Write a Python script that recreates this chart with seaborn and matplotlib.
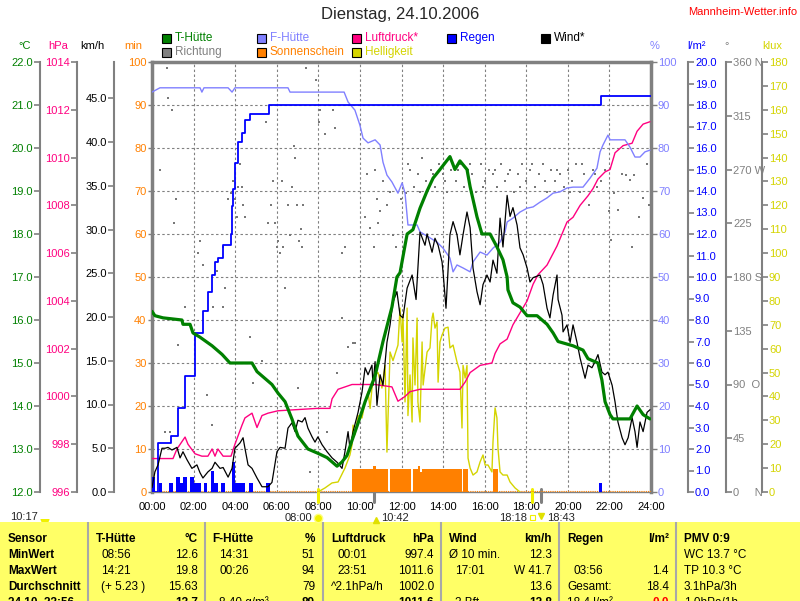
import numpy as np
import pandas as pd
import matplotlib.pyplot as plt
import seaborn as sns
from matplotlib.patches import Rectangle, Wedge

sns.set_style("white")
plt.rcParams['font.family'] = ['Liberation Sans', 'DejaVu Sans']

# ---------------- data (hours of the day) ----------------
temp_h = [0.0, 0.14, 0.53, 1.44, 1.49, 1.83, 1.97, 2.31, 2.89, 3.37, 3.75, 4.81, 5.05, 5.29, 5.77,
          6.06, 6.40, 6.73, 7.02, 7.50, 7.98, 8.42, 8.90, 9.14, 9.38, 9.62, 9.91, 10.25, 10.73,
          11.11, 11.54, 11.78, 11.93, 12.27, 12.55, 12.89, 13.23, 13.52, 13.85, 14.33, 14.57,
          14.81, 15.15, 15.30, 15.63, 15.87, 16.26, 16.59, 16.88, 17.08, 17.12, 17.36, 17.70,
          18.04, 18.52, 19.00, 19.29, 19.53, 20.25, 20.73, 20.97, 21.45, 21.64, 21.79, 22.03,
          22.17, 22.99, 23.33, 23.62, 23.95]
temp_c = [16.2, 16.1, 16.05, 16.0, 15.9, 15.9, 15.7, 15.6, 15.4, 15.2, 15.0, 15.0, 14.8, 14.7, 14.5,
          14.3, 14.1, 13.7, 13.3, 13.0, 12.9, 12.8, 12.6, 12.7, 12.85, 13.2, 13.6, 14.1, 14.7,
          15.5, 16.3, 17.0, 17.1, 18.0, 18.1, 18.6, 19.0, 19.3, 19.5, 19.8, 19.5,
          19.7, 19.5, 19.1, 18.4, 18.0, 18.0, 17.7, 17.4, 17.0, 16.7, 16.4, 16.3,
          16.1, 16.1, 15.9, 15.7, 15.5, 15.4, 15.3, 15.1, 15.0, 14.6, 14.1, 13.8,
          13.7, 13.7, 14.0, 13.8, 13.7]

hum_h = [0.0, 0.38, 2.31, 2.40, 2.50, 3.66, 3.85, 3.99, 6.54, 6.64, 9.24, 9.43, 9.76, 10.0, 10.15,
         10.39, 10.73, 10.97, 11.11, 11.30, 11.54, 11.83, 12.03, 12.17, 12.31, 12.75, 12.89, 13.37,
         13.71, 14.00, 14.33, 14.48, 14.67, 14.96, 15.30, 15.44, 15.78, 16.11, 16.40, 16.74, 16.98,
         17.08, 17.36, 17.70, 18.04, 18.33, 18.66, 19.0, 19.29, 19.62, 19.96, 20.25, 20.73, 21.07,
         21.40, 21.55, 21.69, 21.93, 22.03, 22.75, 22.99, 23.23, 23.47, 23.71, 23.95]
hum_pct = [93, 94, 94, 93, 94, 94, 93, 94, 94, 93, 93, 90.7, 88.8, 85.3, 82.3,
           81.2, 81.9, 80.7, 76.7, 73.7, 72.1, 69.5, 71.9, 69.5, 62.1, 62.1, 60.5, 59.1,
           58.1, 56.7, 54.4, 51.2, 52.8, 52.1, 51.2, 53.5, 55.8, 55.1, 56.7, 58.1, 60.5,
           62.8, 63.7, 65.1, 66.0, 66.3, 67.4, 68.4, 69.5, 69.8, 70.7, 70.9, 70.9, 73.0,
           75.3, 79.1, 80.7, 83.0, 81.9, 81.9, 80.2, 77.9, 77.9, 79.1, 79.5]

pres_h = [0.0, 1.01, 1.20, 1.59, 1.73, 2.07, 2.40, 2.69, 2.89, 3.03, 3.17, 3.42, 3.80, 3.99, 4.33,
          4.47, 4.81, 5.05, 5.29, 5.58, 6.06, 7.94, 8.56, 8.66, 8.95, 9.62, 10.73, 11.54, 11.83,
          12.17, 12.41, 12.89, 14.81, 15.06, 15.30, 15.78, 16.35, 16.50, 16.74, 17.08, 17.36,
          17.70, 18.04, 18.33, 18.57, 19.0, 19.48, 19.96, 20.25, 20.59, 20.97, 21.21, 21.45,
          21.79, 22.03, 22.27, 22.66, 23.09, 23.33, 23.62, 23.95]
pres_hpa = [997.4, 997.4, 997.8, 998.3, 998.0, 997.6, 997.5, 997.5, 997.8, 997.5, 997.8, 997.5,
            997.5, 998.0, 998.8, 999.1, 999.3, 998.7, 999.2, 999.3, 999.4, 999.5, 999.5, 999.9,
            1000.3, 1000.5, 1000.5, 1000.4, 999.8, 1000.0, 1000.2, 1000.3, 1000.3, 1000.6, 1001.0,
            1001.3, 1001.4, 1001.8, 1002.2, 1002.4, 1003.0, 1003.5, 1004.0, 1004.7, 1005.1,
            1005.5, 1006.3, 1007.3, 1007.5, 1008.0, 1008.4, 1008.7, 1009.1, 1009.4, 1009.5,
            1010.2, 1010.5, 1010.6, 1011.1, 1011.4, 1011.5]

wind_h = [0.0, 0.14, 0.29, 0.48, 0.63, 0.77, 0.96, 1.20, 1.35, 1.49, 1.68, 1.92, 2.16, 2.31, 2.45,
          2.69, 2.89, 3.03, 3.27, 3.42, 3.66, 3.85, 3.99, 4.23, 4.38, 4.47, 4.62, 4.81, 5.05, 5.29,
          5.58, 5.77, 6.01, 6.16, 6.40, 6.54, 6.73, 6.88, 7.02, 7.22, 7.36, 7.50, 7.70, 7.84, 7.98,
          8.18, 8.42, 8.66, 8.90, 9.14, 9.28, 9.43, 9.52, 9.67, 9.91, 10.10, 10.25, 10.39, 10.58,
          10.63, 10.73, 10.82, 10.97, 11.11, 11.30, 11.45, 11.59, 11.78, 11.93, 12.07, 12.27,
          12.51, 12.70, 12.89, 13.13, 13.23, 13.47, 13.61, 13.76, 13.95, 14.0, 14.14, 14.33,
          14.48, 14.67, 14.81, 14.96, 15.15, 15.30, 15.44, 15.63, 15.78, 15.92, 16.11, 16.26,
          16.40, 16.59, 16.74, 16.88, 17.08, 17.22, 17.36, 17.56, 17.70, 17.85, 18.04, 18.18,
          18.33, 18.66, 18.81, 19.0, 19.14, 19.29, 19.48, 19.53, 19.72, 19.77, 19.96, 20.11,
          20.25, 20.44, 20.59, 20.83, 20.97, 21.16, 21.31, 21.45, 21.64, 21.79, 21.93, 22.13,
          22.27, 22.41, 22.61, 22.75, 22.90, 23.09, 23.23, 23.33, 23.47, 23.62, 23.81, 23.95]
wind_kmh = [0.5, 2.3, 3.1, 5.0, 5.0, 5.1, 4.8, 5.1, 3.9, 4.6, 3.7, 2.7, 3.1, 2.2, 1.6,
            2.3, 2.7, 3.4, 2.7, 2.8, 1.7, 2.7, 5.0, 5.6, 6.2, 5.0, 3.1, 2.7, 1.6, 0.6,
            0.6, 1.1, 4.6, 5.1, 5.0, 7.3, 7.9, 6.9, 8.2, 8.0, 8.5, 7.3, 6.3, 5.7, 6.3,
            5.4, 4.6, 3.9, 3.4, 2.7, 4.6, 6.9, 5.0, 6.9, 9.1, 11.4, 14.2, 13.4, 14.5,
            12.2, 14.9, 9.9, 13.4, 12.2, 17.1, 19.1, 21.7, 22.9, 20.2, 19.9, 23.3,
            24.8, 22.0, 29.7, 28.2, 29.5, 27.4, 29.0, 28.2, 26.3, 25.1, 21.0, 29.4,
            30.9, 29.4, 27.1, 29.4, 32.0, 30.2, 25.6, 22.9, 21.4, 23.7, 24.8, 24.0,
            26.5, 25.0, 31.3, 28.0, 33.9, 31.5, 32.5, 30.5, 27.9, 27.1, 25.6, 24.0,
            24.5, 24.8, 23.7, 21.0, 19.9, 22.5, 24.8, 22.0, 20.2, 18.3, 19.1, 17.1,
            19.1, 17.1, 15.3, 13.0, 14.5, 14.2, 14.9, 15.7, 13.7, 13.4, 13.7, 12.2,
            10.3, 8.0, 6.2, 5.4, 6.2, 8.5, 6.9, 5.1, 8.0, 6.9, 9.1, 9.4]

rain_sum_h = [0.0, 0.30, 0.90, 1.25, 1.59, 2.07, 2.45, 2.69, 2.89, 3.03, 3.17, 3.41, 3.70, 3.80,
              3.85, 3.90, 3.99, 4.14, 4.33, 4.47, 4.71, 5.58, 5.63, 21.55, 21.60, 24.0]
rain_sum = [0.0, 2.3, 2.6, 3.9, 5.4, 7.4, 8.4, 9.3, 10.1, 10.7, 10.9, 11.5, 11.5, 12.0,
            13.3, 14.1, 15.3, 16.3, 16.7, 17.3, 17.6, 17.6, 18.0, 18.0, 18.4, 18.4]

rain_h = [0.0, 0.33, 0.83, 1.17, 1.33, 1.5, 1.83, 2.0, 2.17, 2.5, 2.83, 3.0, 3.33, 3.83, 4.0,
          4.17, 4.33, 4.67, 5.5, 21.5]
rain_mm = [0.7, 0.4, 0.4, 0.7, 0.4, 0.7, 0.7, 0.4, 0.4, 0.4, 1.0, 0.4, 0.4, 1.4, 0.4,
           0.4, 0.4, 0.4, 0.4, 0.4]

light_h = [7.98, 8.32, 8.66, 8.95, 9.28, 9.52, 9.62, 9.67, 9.76, 9.91, 10.10, 10.25, 10.39, 10.49,
           10.58, 10.73, 10.87, 11.06, 11.21, 11.30, 11.45, 11.59, 11.83, 11.93, 12.03, 12.07,
           12.17, 12.27, 12.31, 12.41, 12.51, 12.55, 12.65, 12.75, 12.79, 12.89, 12.99, 13.04,
           13.23, 13.37, 13.47, 13.52, 13.61, 13.71, 13.76, 13.85, 13.95, 14.09, 14.24, 14.33,
           14.48, 14.67, 14.81, 14.91, 14.96, 15.06, 15.15, 15.20, 15.30, 15.44, 15.63, 15.78,
           15.92, 16.02, 16.16, 16.35, 16.40, 16.50, 16.59, 16.64, 16.74, 16.88, 17.08, 17.22,
           17.46, 17.70]
light_klux = [0, 1.7, 3.8, 4.2, 10, 15.5, 19.7, 28, 24, 32, 31, 37.7, 41.9, 35,
              43.5, 49, 50, 43.5, 53, 16.7, 58.6, 55, 61.5, 77, 62.8, 74,
              37.7, 77, 32, 49, 29.3, 64.5, 44.8, 72.8, 37.7, 29.3, 62.8, 44.8,
              58.6, 60.3, 72.8, 74.9, 68.6, 71.2, 46, 62.8, 65.7, 68.6, 69, 60.3,
              61.5, 54.4, 50.2, 26.8, 53, 47.7, 53, 14.2, 10, 7.1, 8.4, 12.6,
              15.5, 11.3, 11.3, 8.4, 20.9, 35.2, 31, 18.4, 8.4, 7.1, 7.1, 4.2,
              1.7, 0]

sun_start = [9.62, 10.65, 10.75, 11.45, 12.55, 12.80, 12.90, 13.00, 14.97, 16.42]
sun_end = [10.65, 10.75, 11.35, 12.45, 12.80, 12.90, 13.00, 14.90, 15.20, 16.65]
sun_min = [5.3, 6.0, 5.3, 5.3, 5.3, 6.0, 4.6, 5.3, 5.3, 5.3]

dir_h = [0.38, 0.72, 0.77, 0.96, 1.06, 1.15, 2.21, 2.31, 2.45, 3.13, 3.42, 3.66, 3.80, 3.90, 3.99,
         4.09, 4.14, 4.23, 4.33, 4.38, 4.47, 5.48, 5.58, 5.72, 5.82, 5.92, 6.01, 6.06, 6.16, 6.25,
         6.30, 6.54, 6.64, 6.73, 6.83, 6.88, 6.97, 7.07, 7.17, 7.22, 7.26, 7.41, 7.89, 8.03, 8.08,
         8.32, 8.71, 8.80, 9.14, 9.28, 10.25, 10.34, 10.49, 10.68, 10.73, 10.82, 10.87, 10.97,
         11.11, 11.30, 11.45, 11.59, 11.74, 11.98,
         1.59, 1.25, 0.63, 0.87, 2.65, 2.93, 3.42, 3.51, 4.86, 4.71, 5.29, 6.40, 7.02, 7.60, 8.42,
         8.90, 9.14, 9.43, 9.67, 9.76, 2.89,
         12.2, 12.4, 12.6, 12.8, 13.0, 13.2, 13.4, 13.6, 13.8, 14.0, 14.2, 14.4, 14.6, 14.8, 15.0,
         15.2, 15.4, 15.6, 15.8, 16.0, 16.2, 16.4, 16.6, 16.8, 17.0, 17.2, 17.4, 17.6, 17.8, 18.0,
         18.2, 18.4, 18.6, 18.8, 19.0, 19.2, 19.4, 19.6, 19.8, 20.0, 20.2, 20.4, 20.6, 20.8, 21.0,
         21.2, 21.4, 21.6, 21.8, 22.0, 22.2, 22.4, 22.6, 22.8, 23.0, 23.2, 23.4, 23.6, 23.8, 23.9,
         12.3, 12.9, 13.5, 14.1, 14.7, 15.3, 15.9, 16.5, 17.1, 17.7, 18.3, 18.9, 19.5, 20.1, 20.7,
         21.3, 22.1, 23.1]
dir_deg = [270, 355, 330, 320, 225, 245, 200, 210, 190, 185, 205, 245, 250, 260, 245,
           230, 255, 275, 255, 240, 230, 310, 225, 240, 260, 225, 205, 210, 200, 260,
           205, 240, 215, 255, 290, 280, 240, 210, 220, 205, 240, 355, 345, 310, 320,
           300, 320, 305, 200, 205, 230, 266, 221, 205, 270, 245, 225, 235,
           260, 240, 251, 215, 205, 245,
           155, 123, 50, 50, 81, 155, 155, 171, 91, 130, 110, 171, 87, 17, 50,
           100, 146, 121, 125, 125, 56,
           250, 270, 255, 266, 280, 260, 270, 255, 275, 266, 251, 270, 260, 275, 255,
           270, 266, 251, 275, 260, 270, 266, 255, 275, 260, 270, 251, 266, 275, 260,
           270, 255, 266, 275, 251, 270, 260, 266, 255, 270, 260, 275, 251, 266, 240,
           270, 255, 260, 270, 235, 250, 236, 266, 265, 261, 265, 230, 246, 275, 240,
           275, 251, 266, 260, 270, 275, 255, 270, 266, 255, 275, 260, 270, 251, 275,
           266, 211, 205]

deg_ticks = [0, 45, 90, 135, 180, 225, 270, 315, 360]
deg_labels = ['0     N', '45', '90  O', '135', '180 S', '225', '270 W', '315', '360 N']

sun_events = ['08:00', '10:42', '18:18', '18:43']
sun_event_h = [8.0, 10.7, 18.3, 18.72]

table_rows = [
    [('Sensor', 8, 'left', True), ('T-Hütte', 96, 'left', True), ('°C', 198, 'right', True),
     ('F-Hütte', 212, 'left', True), ('%', 315, 'right', True), ('Luftdruck', 331, 'left', True),
     ('hPa', 434, 'right', True), ('Wind', 449, 'left', True), ('km/h', 552, 'right', True),
     ('Regen', 567, 'left', True), ('l/m²', 669, 'right', True), ('PMV 0:9', 684, 'left', True)],
    [('MinWert', 8, 'left', True), ('08:56', 101, 'left', False), ('12.6', 198, 'right', False),
     ('14:31', 219, 'left', False), ('51', 315, 'right', False), ('00:01', 337, 'left', False),
     ('997.4', 434, 'right', False), ('Ø 10 min.', 449, 'left', False), ('12.3', 552, 'right', False),
     ('WC 13.7 °C', 684, 'left', False)],
    [('MaxWert', 8, 'left', True), ('14:21', 101, 'left', False), ('19.8', 198, 'right', False),
     ('00:26', 219, 'left', False), ('94', 315, 'right', False), ('23:51', 337, 'left', False),
     ('1011.6', 434, 'right', False), ('17:01', 455, 'left', False), ('W 41.7', 552, 'right', False),
     ('03:56', 573, 'left', False), ('1.4', 669, 'right', False), ('TP 10.3 °C', 684, 'left', False)],
    [('Durchschnitt', 8, 'left', True), ('(+ 5.23 )', 101, 'left', False), ('15.63', 198, 'right', False),
     ('79', 315, 'right', False), ('^2.1hPa/h', 331, 'left', False), ('1002.0', 434, 'right', False),
     ('13.6', 552, 'right', False), ('Gesamt:', 567, 'left', False), ('18.4', 669, 'right', False),
     ('3.1hPa/3h', 684, 'left', False)],
    [('24.10. 23:56', 8, 'left', True), ('13.7', 198, 'right', True), ('8.40 g/m³', 219, 'left', False),
     ('89', 315, 'right', True), ('1011.6', 434, 'right', True), ('2 Bft', 455, 'left', False),
     ('12.8', 552, 'right', True), ('18.4 l/m²', 567, 'left', False), ('0.0', 669, 'right', True),
     ('1.0hPa/1h', 684, 'left', False)],
]
table_y = [539, 555, 571, 587, 603]

# ---------------- styling ----------------
W, H = 800, 601
TOP, BOT, LEFT, RIGHT = 62, 492, 152, 651
GRAY = '#808080'
GREEN = '#008000'
PINK = '#ff0080'
ORANGE = '#ff8000'
LILAC = '#8080ff'
BLUE = '#0000ff'
YELLOW = '#d4d400'

fig = plt.figure(figsize=(8, 6.01), dpi=100)
fig.patch.set_facecolor('white')


def box(x0, x1):
    return [x0 / W, 1 - BOT / H, (x1 - x0) / W, (BOT - TOP) / H]


ax = fig.add_axes(box(LEFT, RIGHT))
ax.set_xlim(0, 24)
ax.set_ylim(0, 100)
ax.set_xticks(range(0, 25, 2), [f'{h:02d}:00' for h in range(0, 25, 2)])
ax.set_yticks(range(0, 101, 10))
ax.grid(True, color=GRAY, ls=(0, (2.2, 2.2)), lw=0.8)
for k in ['left', 'top', 'right']:
    ax.spines[k].set_color(GRAY)
    ax.spines[k].set_linewidth(2.5)
ax.spines['bottom'].set_color(GRAY)
ax.spines['bottom'].set_linewidth(1)
ax.tick_params(axis='x', colors=GRAY, labelcolor='black', length=4, width=1, labelsize=8, pad=3)
ax.tick_params(axis='y', colors=GRAY, labelcolor=ORANGE, length=3, width=1, labelsize=8, pad=1)

axr = ax.twinx()
axr.set_ylim(0, 100)
axr.set_yticks(range(0, 101, 10))
for s in axr.spines.values():
    s.set_visible(False)
axr.tick_params(axis='y', colors=GRAY, labelcolor=LILAC, length=4, width=1, labelsize=8, pad=1)

# event marks on the time axis
for t, c in zip(sun_event_h, ['#f0f000', GRAY, '#f0f000', GRAY]):
    ax.plot([t, t], [-2.3, 0.8], color=c, lw=2.2, clip_on=False, zorder=5)


def layer(lo, hi):
    a = fig.add_axes(box(LEFT, RIGHT))
    a.set_xlim(0, 24)
    a.set_ylim(lo, hi)
    a.set_axis_off()
    return a


a_sun = layer(0, 100)
a_sun.bar(sun_start, sun_min, width=np.array(sun_end) - np.array(sun_start),
          align='edge', color=ORANGE, linewidth=0)
a_sun.axhline(0.15, color=ORANGE, lw=0.8, ls=(0, (1, 1)))

a_dir = layer(0, 360)
sns.scatterplot(x=dir_h, y=dir_deg, ax=a_dir, color='#787878', marker='s', s=4.5, linewidth=0)
a_dir.set_axis_off()

a_lux = layer(0, 180)
sns.lineplot(x=light_h, y=light_klux, ax=a_lux, color=YELLOW, lw=1, estimator=None, sort=False)
a_lux.set_axis_off()

a_hpa = layer(996, 1014)
sns.lineplot(x=pres_h, y=pres_hpa, ax=a_hpa, color=PINK, lw=1, estimator=None, sort=False)
a_hpa.set_axis_off()

a_hum = layer(0, 100)
sns.lineplot(x=hum_h, y=hum_pct, ax=a_hum, color=LILAC, lw=1, estimator=None, sort=False)
a_hum.set_axis_off()

a_rain = layer(0, 20)
a_rain.bar(rain_h, rain_mm, width=1 / 6, align='edge', color=BLUE, linewidth=0)
sns.lineplot(x=rain_sum_h, y=rain_sum, ax=a_rain, color=BLUE, lw=1.3, estimator=None,
             sort=False, drawstyle='steps-post')
a_rain.set_axis_off()

a_wind = layer(0, 430 / 8.75)
sns.lineplot(x=wind_h, y=wind_kmh, ax=a_wind, color='black', lw=0.9, estimator=None, sort=False)
a_wind.set_axis_off()

a_temp = layer(12, 22)
sns.lineplot(x=temp_h, y=temp_c, ax=a_temp, color=GREEN, lw=2.3, estimator=None, sort=False)
a_temp.set_axis_off()


def side(xpix, lo, hi, ticks, labels, color, where):
    if where == 'left':
        a = fig.add_axes([xpix / W, 1 - BOT / H, 1 / W, (BOT - TOP) / H])
    else:
        a = fig.add_axes([(xpix - 1) / W, 1 - BOT / H, 1 / W, (BOT - TOP) / H])
    a.set_ylim(lo, hi)
    a.set_xticks([])
    a.patch.set_visible(False)
    for k, s in a.spines.items():
        s.set_visible(k == where)
        s.set_color(GRAY)
        s.set_linewidth(1.5)
    a.yaxis.set_ticks_position(where)
    a.set_yticks(ticks, labels)
    a.tick_params(axis='y', colors=GRAY, labelcolor=color, length=4, width=1.2, labelsize=8, pad=1)
    return a


side(40, 12, 22, np.arange(12, 22.1, 1), [f'{v:.1f}' for v in np.arange(12, 22.1, 1)], GREEN, 'left')
side(77, 996, 1014, range(996, 1015, 2), [str(v) for v in range(996, 1015, 2)], PINK, 'left')
side(114, 0, 430 / 8.75, np.arange(0, 45.1, 5), [f'{v:.1f}' for v in np.arange(0, 45.1, 5)], 'black', 'left')
side(688, 0, 20, np.arange(0, 20.1, 1), [f'{v:.1f}' for v in np.arange(0, 20.1, 1)], BLUE, 'right')
side(726, 0, 360, deg_ticks, deg_labels, GRAY, 'right')
side(762, 0, 180, range(0, 181, 10), [str(v) for v in range(0, 181, 10)], YELLOW, 'right')

# ---------------- canvas for texts, legend and table ----------------
cv = fig.add_axes([0, 0, 1, 1])
cv.set_xlim(0, W)
cv.set_ylim(H, 0)
cv.set_axis_off()
cv.patch.set_visible(False)

cv.text(400, 15, 'Dienstag, 24.10.2006', ha='center', va='center', fontsize=12)
cv.text(688, 12, 'Mannheim-Wetter.info', ha='left', va='center', fontsize=8, color='#ff0000')

for s, x, c in [('°C', 25, GREEN), ('hPa', 58, PINK), ('km/h', 92, 'black'), ('min', 133, ORANGE),
                ('%', 655, LILAC), ('l/m²', 697, BLUE), ('°', 727, GRAY), ('klux', 772, YELLOW)]:
    cv.text(x, 46, s, ha='center', va='center', fontsize=8, color=c)

legend = [('T-Hütte', GREEN, 162, 38), ('Richtung', GRAY, 162, 52), ('F-Hütte', LILAC, 257, 38),
          ('Sonnenschein', ORANGE, 257, 52), ('Luftdruck*', PINK, 352, 38), ('Helligkeit', YELLOW, 352, 52),
          ('Regen', BLUE, 447, 38), ('Wind*', 'black', 541, 38)]
for s, c, x, y in legend:
    cv.add_patch(Rectangle((x, y - 4.5), 9, 9, fc=c, ec='black', lw=0.8))
    cv.text(x + 13, y, s, ha='left', va='center', fontsize=8.5, color=c)

# sunrise / sunset line
cv.text(10, 517, '10:17', ha='left', va='center', fontsize=8)
cv.add_patch(Wedge((45, 519), 4.5, 0, 180, fc='#f0f000', ec='none'))
cv.text(312, 518, sun_events[0], ha='right', va='center', fontsize=8)
cv.plot([318], [518], marker='o', ms=6, color='#f0f000', mec='#ffff80')
cv.plot([376], [520], marker='^', ms=5, color='#e0e000')
cv.text(381, 518, sun_events[1], ha='left', va='center', fontsize=8)
cv.text(527, 518, sun_events[2], ha='right', va='center', fontsize=8)
cv.add_patch(Rectangle((530, 515), 5, 5, fc='none', ec='#f0f000', lw=0.8))
cv.plot([541], [516], marker='v', ms=5, color='#e0e000')
cv.text(547, 518, sun_events[3], ha='left', va='center', fontsize=8)

# table
cv.add_patch(Rectangle((0, 522), W, 80, fc='#ffff66', ec='none'))
cv.vlines([88, 205, 323, 441, 559, 676], 522, 601, color='#a8a8a8', lw=1.5)
for y, row in zip(table_y, table_rows):
    for s, x, ha, bold in row:
        col = 'black'
        if s == '0.0':
            col = '#ff0000'
        cv.text(x, y, s, ha=ha, va='center', fontsize=8.5, color=col,
                fontweight='bold' if bold else 'normal', clip_on=True)

fig.savefig('out.png', dpi=100, facecolor='white')
